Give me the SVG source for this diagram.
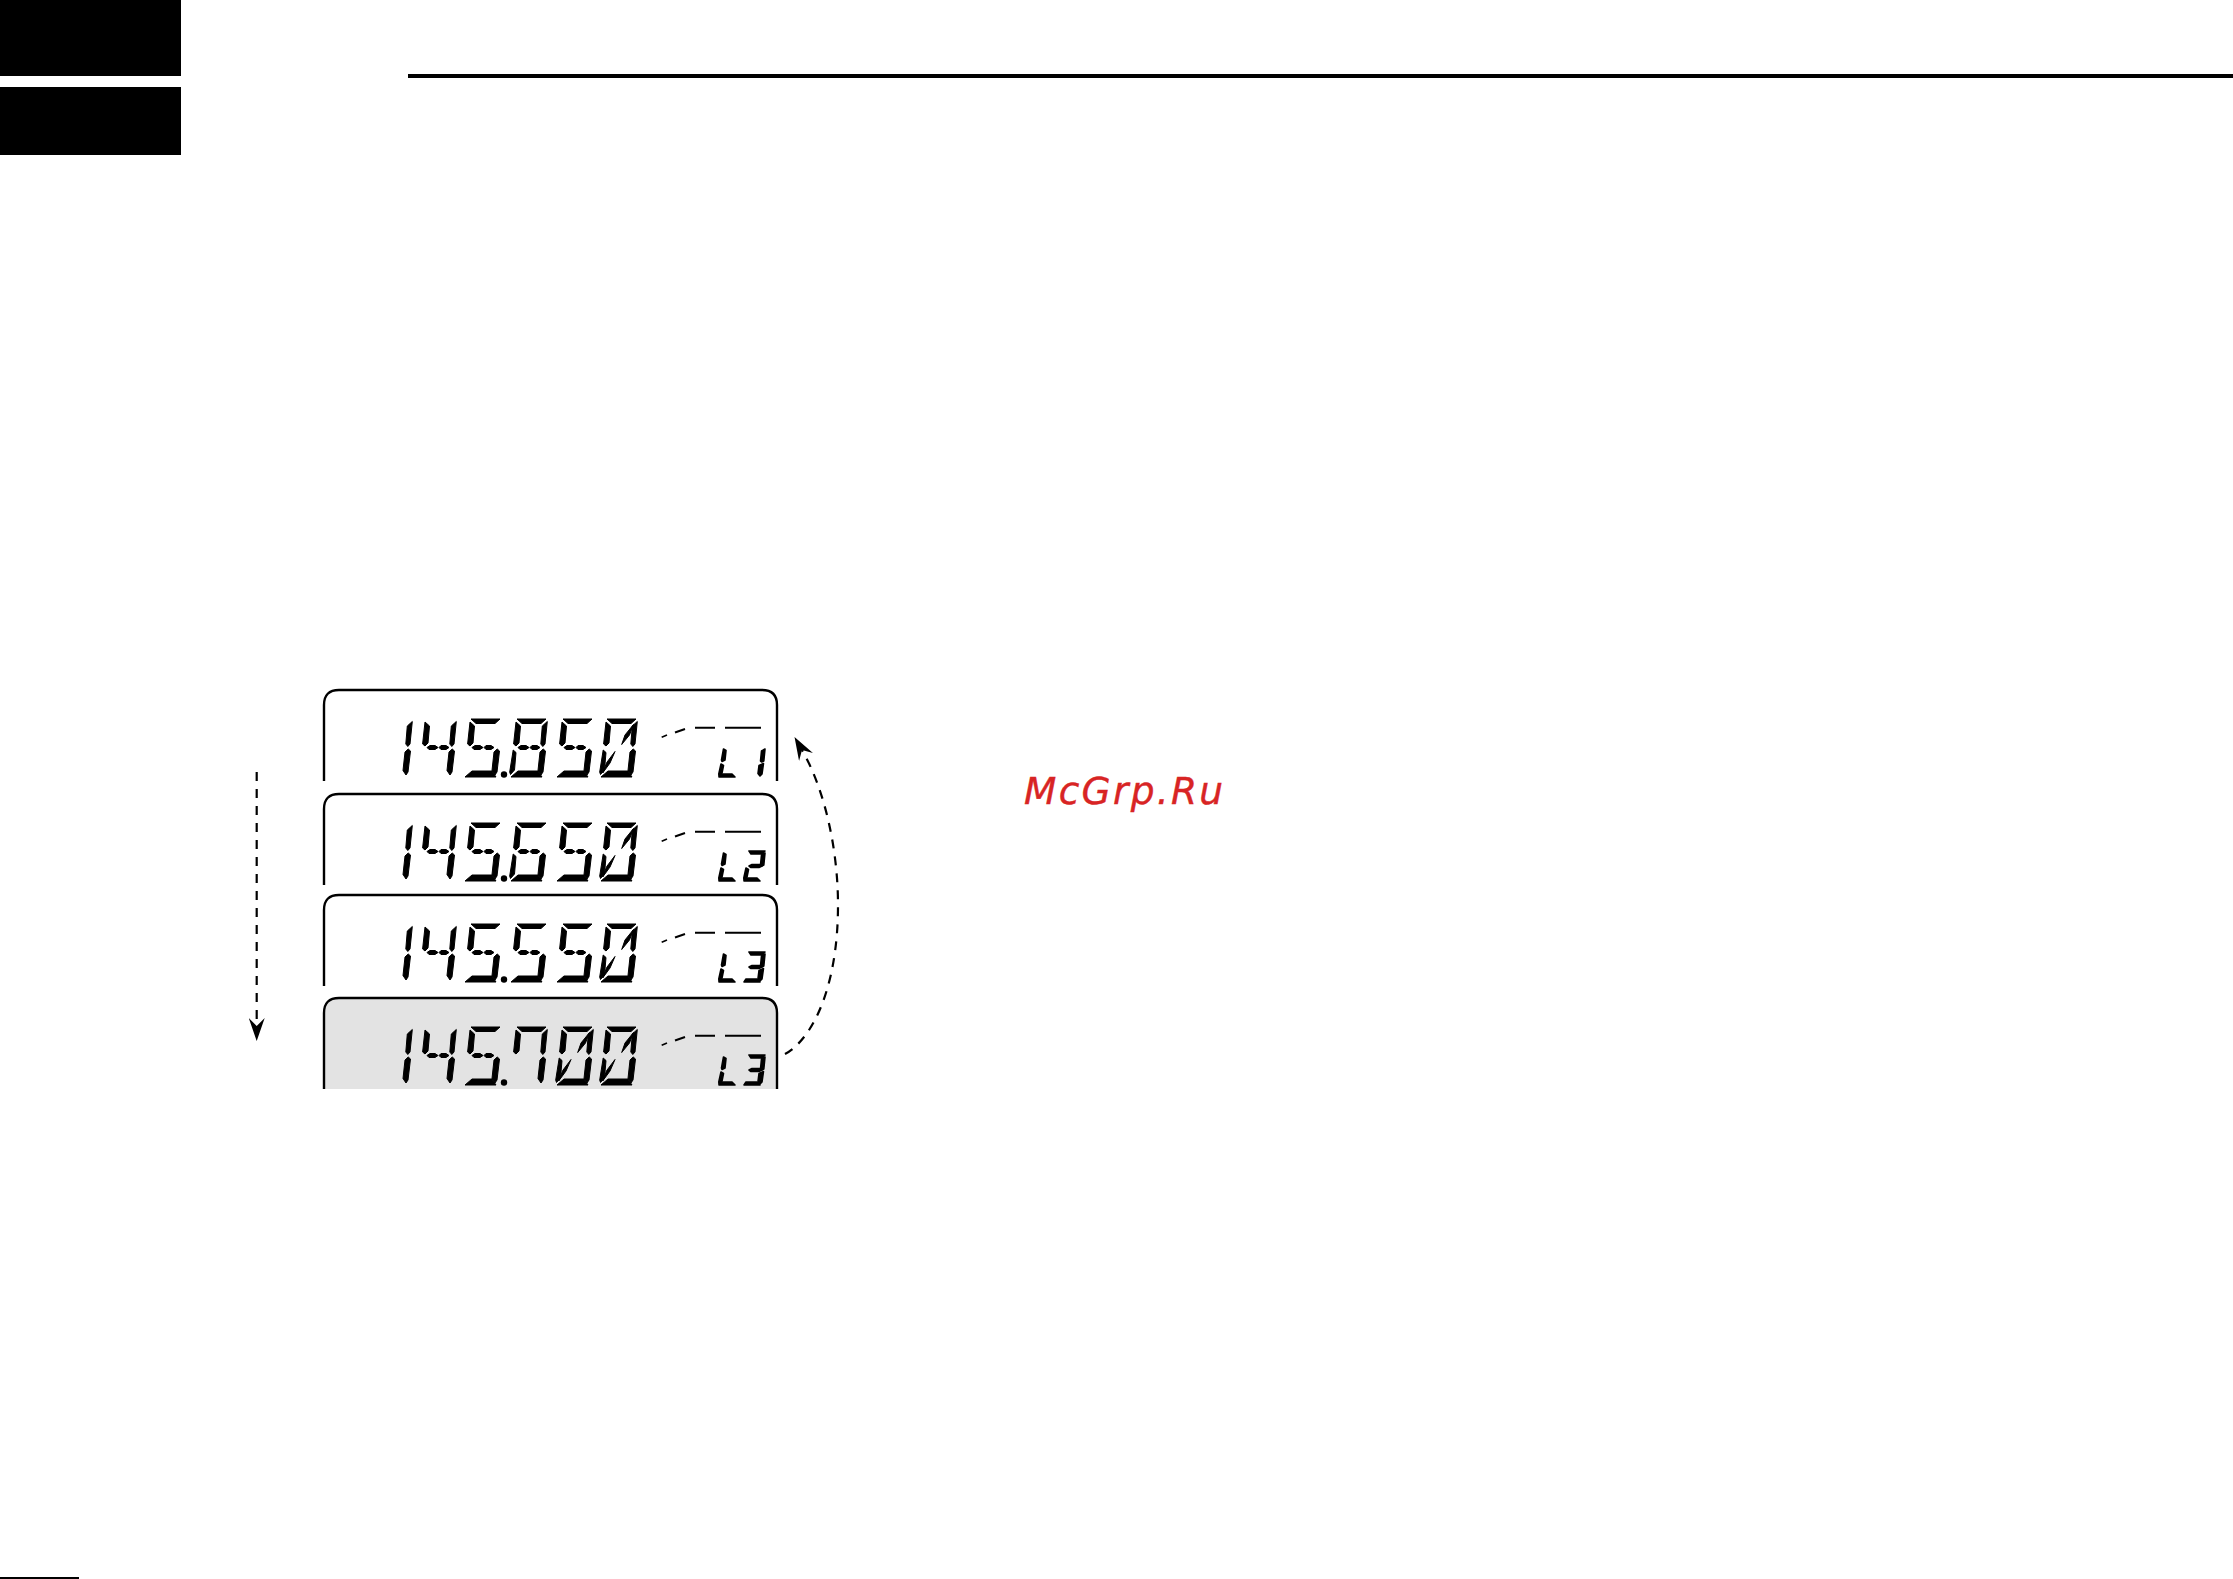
<svg xmlns="http://www.w3.org/2000/svg" width="2233" height="1579" viewBox="0 0 2233 1579">
<style>
.frame{fill:none;stroke:#000;stroke-width:2.4}
.shade{fill:#e3e3e3;stroke:#000;stroke-width:2.4}
.dash{fill:none;stroke:#000;stroke-width:2.2;stroke-dasharray:9 8}
.wm{font-family:"DejaVu Sans",sans-serif;font-style:oblique;font-size:37.5px;letter-spacing:2.3px;fill:#d82424;stroke:#d82424;stroke-width:.4}
.seg{stroke:#000;stroke-width:1;stroke-linejoin:round}
.sseg{stroke:#000;stroke-width:1.6;stroke-linejoin:round}
</style>
<defs>
<marker id="stealth" viewBox="0 0 23 16" refX="8" refY="8" markerWidth="23" markerHeight="16" markerUnits="userSpaceOnUse" orient="auto"><path d="M23 8L0 0L8 8L0 16Z"/></marker>
<path id="frame" d="M324 91V15Q324 0 339 0H762Q777 0 777 15V91"/>
<g id="meter" fill="none" stroke="#000"><path stroke-width="1.6" d="M661.7 47.2L667 45"/><path stroke-width="2" d="M675 42.5L685 39"/><path stroke-width="2" d="M695 37.7H715M725 37.7H761"/></g>
<polygon id="a" class="seg" points="7,0 36,0 31,4.5 12,4.5"/>
<polygon id="b" class="seg" points="37.3,2.5 35,25 32.8,27.5 30.8,25 32.3,7"/>
<polygon id="f" class="seg" points="6,3 10.5,7 9,24 6,27 3.6,25"/>
<polygon id="g1" class="seg" points="8,28.5 11,26.5 16,26.5 19,28.5 16,30.5 10,30.5"/>
<polygon id="g2" class="seg" points="20,28.5 22,26.5 27,26.5 30,28.5 27,30.5 22,30.5"/>
<polygon id="e" class="seg" points="3.2,31 6,33.5 4.5,51 0.5,55.5 -0.3,53"/>
<polygon id="c" class="seg" points="33.2,30 35.5,32 33,53 31,56 28,51.5 30,33"/>
<polygon id="d" class="seg" points="8,52 28,52 32,58 1,58"/>
<polygon id="h" class="seg" points="33.5,5.5 29.5,16 21.7,25.5 25,16"/>
<polygon id="k" class="seg" points="15,32.5 10,44 2.7,54 6.7,43.5"/>
<g id="d0"><use href="#a"/><use href="#b"/><use href="#c"/><use href="#d"/><use href="#e"/><use href="#f"/><use href="#h"/><use href="#k"/></g>
<g id="d1"><use href="#b"/><use href="#c"/></g>
<g id="d4"><use href="#f"/><use href="#b"/><use href="#g1"/><use href="#g2"/><use href="#c"/></g>
<g id="d5"><use href="#a"/><use href="#f"/><use href="#g1"/><use href="#g2"/><use href="#c"/><use href="#d"/></g>
<g id="d6"><use href="#a"/><use href="#f"/><use href="#g1"/><use href="#g2"/><use href="#e"/><use href="#c"/><use href="#d"/></g>
<g id="d7"><use href="#a"/><use href="#f"/><use href="#b"/><use href="#c"/></g>
<g id="d8"><use href="#a"/><use href="#f"/><use href="#b"/><use href="#g1"/><use href="#g2"/><use href="#e"/><use href="#c"/><use href="#d"/></g>
<polygon id="sa" class="sseg" points="6,0 22,0 19,3 8,3"/>
<polygon id="sf" class="sseg" points="5.5,2 8,3.5 7,13 4,14.5 3.5,13"/>
<polygon id="sb" class="sseg" points="22,2 20.8,14 18.8,15 17.5,14 18.5,4"/>
<polygon id="sg" class="sseg" points="6,15 9,13.5 17,13.5 19,15 16,16.5 8,16.5"/>
<polygon id="se" class="sseg" points="3,17 5.5,18.5 4,26 1,29 0.8,27"/>
<polygon id="sc" class="sseg" points="20.5,16.5 19,27 17,29 15,26.5 16,18.5"/>
<polygon id="sd" class="sseg" points="3,27 14,27 17,30 1,30"/>
<g id="sL"><use href="#sf"/><use href="#se"/><use href="#sd"/></g>
<g id="s1"><use href="#sb"/><use href="#sc"/></g>
<g id="s2"><use href="#sa"/><use href="#sb"/><use href="#sg"/><use href="#se"/><use href="#sd"/></g>
<g id="s3"><use href="#sa"/><use href="#sb"/><use href="#sg"/><use href="#sc"/><use href="#sd"/></g>
<g id="prefix"><use href="#d1" x="375" y="29"/><use href="#d4" x="419" y="29"/><use href="#d5" x="464" y="29"/></g>
</defs>
<g id="page-marks">
<rect x="0" y="0" width="181" height="76"/>
<rect x="0" y="87" width="181" height="68"/>
<rect x="408" y="74" width="1825" height="4"/>
<rect x="0" y="1577" width="79" height="2"/>
</g>
<g id="panel-1" transform="translate(0 690)"><title>145.850 L1</title>
<use href="#frame" class="frame"/><use href="#prefix"/><circle cx="504" cy="84.5" r="3.2"/>
<use href="#d8" x="510" y="29"/><use href="#d5" x="556" y="29"/><use href="#d0" x="600" y="29"/>
<use href="#meter"/><use href="#sL" x="718" y="57"/><use href="#s1" x="743" y="57"/></g>
<g id="panel-2" transform="translate(0 794)"><title>145.650 L2</title>
<use href="#frame" class="frame"/><use href="#prefix"/><circle cx="504" cy="84.5" r="3.2"/>
<use href="#d6" x="510" y="29"/><use href="#d5" x="556" y="29"/><use href="#d0" x="600" y="29"/>
<use href="#meter"/><use href="#sL" x="718" y="57"/><use href="#s2" x="743" y="57"/></g>
<g id="panel-3" transform="translate(0 895)"><title>145.550 L3</title>
<use href="#frame" class="frame"/><use href="#prefix"/><circle cx="504" cy="84.5" r="3.2"/>
<use href="#d5" x="510" y="29"/><use href="#d5" x="556" y="29"/><use href="#d0" x="600" y="29"/>
<use href="#meter"/><use href="#sL" x="718" y="57"/><use href="#s3" x="743" y="57"/></g>
<g id="panel-4" transform="translate(0 998)"><title>145.700 L3</title>
<use href="#frame" class="shade"/><use href="#prefix"/><circle cx="504" cy="84.5" r="3.2"/>
<use href="#d7" x="510" y="29"/><use href="#d0" x="556" y="29"/><use href="#d0" x="600" y="29"/>
<use href="#meter"/><use href="#sL" x="718" y="57"/><use href="#s3" x="743" y="57"/></g>
<g id="connectors">
<path class="dash" marker-end="url(#stealth)" d="M256.7 772V1026"/>
<path class="dash" marker-end="url(#stealth)" d="M785 1054C811 1040 838 990 838 905C838 850 825 790 802 750"/>
</g>
<g id="watermark"><text class="wm" x="1024" y="804">McGrp.Ru</text></g>
</svg>
